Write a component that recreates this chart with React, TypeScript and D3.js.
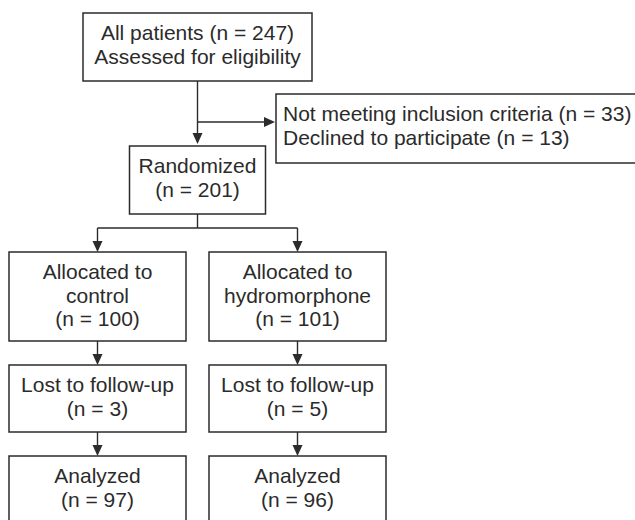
import * as d3 from 'd3';

// Flow diagram content
const screeningLines = ['All patients (n = 247)', 'Assessed for eligibility'];
const excludedLines = ['Not meeting inclusion criteria (n = 33)', 'Declined to participate (n = 13)'];
const randomizedLines = ['Randomized', '(n = 201)'];
const armNames = ['control', 'hydromorphone'];
const allocatedN = [100, 101];
const lostN = [3, 5];
const analyzedN = [97, 96];

const W = 635;
const H = 520;
const INK = '#2b2b2b';
const FONT = 21;
const LINE_H = 23.5;

// column centres: -1 = control, 0 = trunk, 1 = hydromorphone
const xCol = d3.scaleLinear().domain([-1, 1]).range([97.5, 297.5]);

// rows: top edge and height of each box row
const rows = {
  screen: { top: 13, h: 68, w: 229 },
  excluded: { top: 94, h: 69 },
  random: { top: 146, h: 68, w: 136 },
  allocated: { top: 252, h: 89, w: 177 },
  lost: { top: 365, h: 67, w: 177 },
  analyzed: { top: 456, h: 70, w: 177 },
};
const splitY = 228;
const excludedX = 276;

const arrowHead = (x: number, y: number, dir: 'down' | 'right') => {
  const p = d3.path();
  if (dir === 'down') {
    p.moveTo(x, y);
    p.lineTo(x - 5, y - 11);
    p.lineTo(x + 5, y - 11);
  } else {
    p.moveTo(x, y);
    p.lineTo(x - 11, y - 5);
    p.lineTo(x - 11, y + 5);
  }
  p.closePath();
  return p.toString();
};

const Box = ({ cx, top, w, h, lines, align = 'middle', x0 }: {
  cx: number; top: number; w: number; h: number; lines: string[];
  align?: 'middle' | 'start'; x0?: number;
}) => {
  const left = x0 ?? cx - w / 2;
  const tx = align === 'middle' ? cx : left + 7;
  return (
    <g>
      <rect x={left} y={top} width={w} height={h} fill="#fff" stroke={INK} strokeWidth={1.5} />
      {lines.map((t, i) => (
        <text key={i} x={tx} y={top + 27 + i * LINE_H} textAnchor={align} fill={INK}
          fontSize={FONT} fontFamily="'Liberation Sans', Arial, Helvetica, sans-serif">
          {t}
        </text>
      ))}
    </g>
  );
};

const Arrow = ({ x1, y1, x2, y2 }: { x1: number; y1: number; x2: number; y2: number }) => {
  const down = x1 === x2;
  return (
    <g>
      <line x1={x1} y1={y1} x2={down ? x2 : x2 - 10} y2={down ? y2 - 10 : y2} stroke={INK} strokeWidth={1.4} />
      <path d={arrowHead(x2, y2, down ? 'down' : 'right')} fill={INK} />
    </g>
  );
};

export default function App() {
  const c0 = xCol(0);
  const arms = [-1, 1];
  const screenBottom = rows.screen.top + rows.screen.h;
  const sideY = rows.excluded.top + 28;
  const randBottom = rows.random.top + rows.random.h;

  return (
    <svg width={W} height={H} style={{ position: 'absolute', left: 0, top: 0, background: '#fff' }}>
      <Box cx={c0} top={rows.screen.top} w={rows.screen.w} h={rows.screen.h} lines={screeningLines} />

      <line x1={c0} y1={screenBottom} x2={c0} y2={rows.random.top - 10} stroke={INK} strokeWidth={1.4} />
      <path d={arrowHead(c0, rows.random.top - 2, 'down')} fill={INK} />
      <Arrow x1={c0} y1={sideY} x2={excludedX - 1} y2={sideY} />

      <Box cx={0} x0={excludedX} top={rows.excluded.top} w={W + 10 - excludedX} h={rows.excluded.h}
        lines={excludedLines} align="start" />

      <Box cx={c0} top={rows.random.top} w={rows.random.w} h={rows.random.h} lines={randomizedLines} />

      <line x1={c0} y1={randBottom} x2={c0} y2={splitY} stroke={INK} strokeWidth={1.4} />
      <line x1={xCol(-1)} y1={splitY} x2={xCol(1)} y2={splitY} stroke={INK} strokeWidth={1.4} />

      {arms.map((a, i) => {
        const cx = xCol(a);
        return (
          <g key={a}>
            <Arrow x1={cx} y1={splitY} x2={cx} y2={rows.allocated.top} />
            <Box cx={cx} top={rows.allocated.top} w={rows.allocated.w} h={rows.allocated.h}
              lines={['Allocated to', armNames[i], `(n = ${allocatedN[i]})`]} />
            <Arrow x1={cx} y1={rows.allocated.top + rows.allocated.h} x2={cx} y2={rows.lost.top} />
            <Box cx={cx} top={rows.lost.top} w={rows.lost.w} h={rows.lost.h}
              lines={['Lost to follow-up', `(n = ${lostN[i]})`]} />
            <Arrow x1={cx} y1={rows.lost.top + rows.lost.h} x2={cx} y2={rows.analyzed.top} />
            <Box cx={cx} top={rows.analyzed.top} w={rows.analyzed.w} h={rows.analyzed.h}
              lines={['Analyzed', `(n = ${analyzedN[i]})`]} />
          </g>
        );
      })}
    </svg>
  );
}
